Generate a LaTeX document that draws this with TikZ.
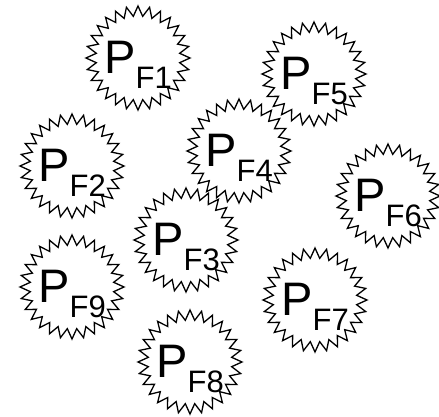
\documentclass[tikz,border=0pt]{standalone}
\usepackage{fontspec}
\setmainfont{Liberation Sans}
\usetikzlibrary{shapes.geometric}
\tikzset{
  burst/.style={star, star points=28, star point ratio=1.24, minimum size=104pt,
    inner sep=0pt, draw=black, line width=1.3pt, line join=miter},
  lab/.style={inner sep=0pt, font=\fontsize{47}{47}\selectfont}
}
\newcommand{\pf}[1]{P\raisebox{-15pt}{\fontsize{31}{31}\selectfont F#1}}
\begin{document}
\begin{tikzpicture}[x=1pt,y=-1pt]
\useasboundingbox (0,0) rectangle (439,417);
\foreach \n/\x/\y in {1/138/58, 2/72/166, 3/186/240, 4/239/151, 5/314/74, 6/388/196, 7/315/300, 8/190/362, 9/72/287}{
  \node[burst] (f\n) at (\x,\y) {};
  \node[lab] (t\n) at ([yshift=-7pt]f\n.center) {\pf{\n}};
}
\end{tikzpicture}
\end{document}
